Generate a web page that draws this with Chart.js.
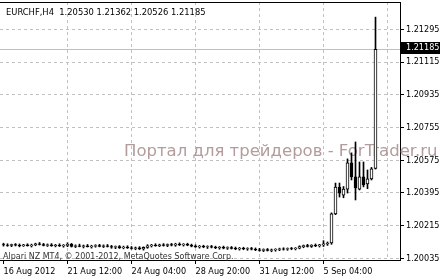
<!DOCTYPE html>
<html>
<head>
<meta charset="utf-8">
<script src="https://cdn.jsdelivr.net/npm/chart.js@4.4.1/dist/chart.umd.min.js"></script>
<style>
  html, body { margin: 0; padding: 0; background: #fff; }
  #wrap { width: 440px; height: 280px; }
</style>
</head>
<body>
<div id="wrap"><canvas id="chart" width="440" height="280"></canvas></div>
<script>
// EURCHF H4 candles, oldest first (16 Aug 2012 20:00 .. 7 Sep 2012)
var opens = [
  1.20110, 1.20108, 1.20106, 1.20110, 1.20107, 1.20104, 1.20109, 1.20105, 1.20108, 1.20114,
  1.20111, 1.20106, 1.20109, 1.20104, 1.20107, 1.20103, 1.20106, 1.20112, 1.20101, 1.20104,
  1.20100, 1.20103, 1.20099, 1.20102, 1.20105, 1.20101, 1.20104, 1.20100, 1.20096, 1.20099,
  1.20094, 1.20097, 1.20093, 1.20089, 1.20092, 1.20086, 1.20095, 1.20104, 1.20108, 1.20105,
  1.20109, 1.20106, 1.20110, 1.20107, 1.20113, 1.20109, 1.20112, 1.20107, 1.20102, 1.20098,
  1.20101, 1.20097, 1.20100, 1.20096, 1.20093, 1.20096, 1.20091, 1.20094, 1.20090, 1.20087,
  1.20090, 1.20086, 1.20089, 1.20085, 1.20082, 1.20079, 1.20083, 1.20078, 1.20081, 1.20084,
  1.20087, 1.20085, 1.20089, 1.20088, 1.20091, 1.20099, 1.20105, 1.20101, 1.20107, 1.20104,
  1.20109, 1.20114, 1.20119, 1.20279, 1.20427, 1.20383, 1.20416, 1.20560, 1.20483, 1.20416,
  1.20483, 1.20444, 1.20472, 1.20530
];
var highs = [
  1.20118, 1.20115, 1.20113, 1.20116, 1.20114, 1.20112, 1.20115, 1.20113, 1.20118, 1.20122,
  1.20117, 1.20114, 1.20116, 1.20112, 1.20115, 1.20111, 1.20120, 1.20117, 1.20109, 1.20113,
  1.20108, 1.20111, 1.20107, 1.20110, 1.20112, 1.20109, 1.20111, 1.20106, 1.20103, 1.20105,
  1.20102, 1.20104, 1.20100, 1.20097, 1.20099, 1.20098, 1.20110, 1.20112, 1.20115, 1.20113,
  1.20116, 1.20114, 1.20117, 1.20118, 1.20120, 1.20116, 1.20118, 1.20113, 1.20109, 1.20106,
  1.20107, 1.20104, 1.20106, 1.20102, 1.20100, 1.20102, 1.20098, 1.20100, 1.20097, 1.20095,
  1.20096, 1.20093, 1.20095, 1.20092, 1.20090, 1.20087, 1.20089, 1.20086, 1.20088, 1.20091,
  1.20093, 1.20092, 1.20095, 1.20094, 1.20104, 1.20108, 1.20112, 1.20110, 1.20114, 1.20112,
  1.20132, 1.20125, 1.20285, 1.20449, 1.20449, 1.20430, 1.20582, 1.20615, 1.20675, 1.20565,
  1.20565, 1.20521, 1.20535, 1.21362
];
var lows = [
  1.20102, 1.20101, 1.20099, 1.20103, 1.20098, 1.20100, 1.20102, 1.20097, 1.20104, 1.20108,
  1.20103, 1.20100, 1.20101, 1.20098, 1.20100, 1.20096, 1.20099, 1.20097, 1.20094, 1.20098,
  1.20092, 1.20097, 1.20091, 1.20096, 1.20098, 1.20094, 1.20097, 1.20090, 1.20088, 1.20089,
  1.20087, 1.20089, 1.20085, 1.20082, 1.20083, 1.20080, 1.20090, 1.20097, 1.20101, 1.20099,
  1.20102, 1.20099, 1.20103, 1.20101, 1.20105, 1.20102, 1.20104, 1.20098, 1.20095, 1.20091,
  1.20093, 1.20089, 1.20092, 1.20088, 1.20085, 1.20087, 1.20084, 1.20086, 1.20082, 1.20080,
  1.20082, 1.20079, 1.20081, 1.20077, 1.20074, 1.20072, 1.20075, 1.20071, 1.20074, 1.20077,
  1.20080, 1.20079, 1.20082, 1.20081, 1.20087, 1.20093, 1.20097, 1.20095, 1.20099, 1.20097,
  1.20100, 1.20106, 1.20112, 1.20275, 1.20372, 1.20368, 1.20394, 1.20466, 1.20356, 1.20411,
  1.20428, 1.20418, 1.20466, 1.20526
];
var closes = [
  1.20108, 1.20106, 1.20110, 1.20107, 1.20104, 1.20109, 1.20105, 1.20108, 1.20114, 1.20111,
  1.20106, 1.20109, 1.20104, 1.20107, 1.20103, 1.20106, 1.20112, 1.20101, 1.20104, 1.20100,
  1.20103, 1.20099, 1.20102, 1.20105, 1.20101, 1.20104, 1.20100, 1.20096, 1.20099, 1.20094,
  1.20097, 1.20093, 1.20089, 1.20092, 1.20086, 1.20095, 1.20104, 1.20108, 1.20105, 1.20109,
  1.20106, 1.20110, 1.20107, 1.20113, 1.20109, 1.20112, 1.20107, 1.20102, 1.20098, 1.20101,
  1.20097, 1.20100, 1.20096, 1.20093, 1.20096, 1.20091, 1.20094, 1.20090, 1.20087, 1.20090,
  1.20086, 1.20089, 1.20085, 1.20082, 1.20079, 1.20083, 1.20078, 1.20081, 1.20084, 1.20087,
  1.20085, 1.20089, 1.20088, 1.20091, 1.20099, 1.20105, 1.20101, 1.20107, 1.20104, 1.20109,
  1.20114, 1.20119, 1.20279, 1.20427, 1.20394, 1.20416, 1.20560, 1.20483, 1.20422, 1.20483,
  1.20439, 1.20472, 1.20527, 1.21185
];

// bar index of each time label (one label every 16 bars)
var timeTickIndex = [0, 16, 32, 48, 64, 80, 96];
var timeLabels = ['16 Aug 2012', '21 Aug 12:00', '24 Aug 04:00', '28 Aug 20:00', '31 Aug 12:00', '5 Sep 04:00', ''];
var priceTicks = [1.21295, 1.21115, 1.20935, 1.20755, 1.20575, 1.20395, 1.20215, 1.20035];

var symbolTitle = 'EURCHF,H4';
var watermark = 'Портал для трейдеров - ForTrader.ru';
var copyright = 'Alpari NZ MT4, © 2001-2012, MetaQuotes Software Corp.';

var FONT = "'DejaVu Sans Condensed', 'DejaVu Sans', sans-serif";
var last = closes.length - 1;

var wickData = lows.map(function (lo, i) { return { x: i, y: [lo, highs[i]] }; });
var bodyData = opens.map(function (op, i) { return { x: i, y: [op, closes[i]] }; });

var mt4Plugin = {
  id: 'mt4',
  beforeDraw: function (chart) {
    var ctx = chart.ctx;
    ctx.save();
    ctx.fillStyle = '#fff';
    ctx.fillRect(0, 0, chart.width, chart.height);
    ctx.restore();
  },
  beforeDatasetsDraw: function (chart) {
    var ctx = chart.ctx, area = chart.chartArea;
    var py = Math.round(chart.scales.y.getPixelForValue(closes[last])) + 0.5;
    ctx.save();
    // bid line
    ctx.strokeStyle = '#c0c0c0';
    ctx.lineWidth = 1;
    ctx.beginPath();
    ctx.moveTo(area.left, py);
    ctx.lineTo(area.right, py);
    ctx.stroke();

    ctx.textBaseline = 'alphabetic';
    ctx.textAlign = 'left';
    ctx.fillStyle = 'rgb(178,156,156)';
    ctx.font = "16.5px 'DejaVu Sans', sans-serif";
    ctx.fillText(watermark, 124, 156);

    ctx.fillStyle = '#333';
    ctx.font = '8.9px ' + FONT;
    ctx.fillText(copyright, 3, 259);

    ctx.fillStyle = '#000';
    ctx.font = '9.3px ' + FONT;
    var ohlc = [opens[last], highs[last], lows[last], closes[last]].map(function (v) { return v.toFixed(5); });
    ctx.fillText(symbolTitle + '  ' + ohlc.join(' '), 6, 15);
    ctx.restore();
  },
  afterDraw: function (chart) {
    var ctx = chart.ctx, area = chart.chartArea;
    var py = Math.round(chart.scales.y.getPixelForValue(closes[last]));
    ctx.save();
    ctx.strokeStyle = '#000';
    ctx.lineWidth = 1;
    ctx.beginPath();
    ctx.moveTo(0, area.top + 0.5);
    ctx.lineTo(area.right + 1, area.top + 0.5);
    ctx.stroke();

    ctx.fillStyle = '#000';
    ctx.fillRect(area.right + 1, py - 7, chart.width - area.right - 1, 12);
    ctx.fillStyle = '#fff';
    ctx.font = '9px ' + FONT;
    ctx.textBaseline = 'middle';
    ctx.fillText(closes[last].toFixed(5), area.right + 6, py - 1);
    ctx.restore();
  }
};

var ctx = document.getElementById('chart').getContext('2d');
new Chart(ctx, {
  type: 'bar',
  data: {
    datasets: [{
      label: 'body',
      data: bodyData,
      order: 0,
      grouped: false,
      barThickness: 3,
      borderWidth: 1,
      borderSkipped: false,
      borderColor: '#000',
      backgroundColor: function (c) {
        var i = c.dataIndex;
        return closes[i] >= opens[i] ? '#fff' : '#000';
      }
    }, {
      label: 'wick',
      data: wickData,
      order: 1,
      grouped: false,
      barThickness: 1,
      borderWidth: 0,
      backgroundColor: '#000'
    }]
  },
  options: {
    responsive: false,
    animation: false,
    events: [],
    layout: { padding: { top: 2, left: 0, right: 0, bottom: 0 } },
    plugins: {
      legend: { display: false },
      tooltip: { enabled: false }
    },
    scales: {
      x: {
        type: 'linear',
        offset: false,
        min: -0.875,
        max: 99.125,
        afterBuildTicks: function (s) {
          s.ticks = timeTickIndex.map(function (v) { return { value: v }; });
        },
        afterFit: function (s) {
          s.height = 20;
          s.paddingLeft = 0;
          s.paddingRight = 0;
        },
        grid: {
          offset: false,
          color: function (c) { return c.tick && c.tick.value > 0 ? '#c0c0c0' : 'rgba(0,0,0,0)'; },
          tickColor: function (c) { return c.tick && c.tick.value < 96 ? '#000' : 'rgba(0,0,0,0)'; },
          tickLength: 4,
          lineWidth: 1
        },
        border: { display: true, color: '#000', dash: [3, 3] },
        ticks: {
          align: 'start',
          padding: 2,
          maxRotation: 0,
          autoSkip: false,
          color: '#000',
          font: { family: FONT, size: 9 },
          callback: function (v) { return timeLabels[timeTickIndex.indexOf(v)]; }
        }
      },
      y: {
        position: 'right',
        min: 1.2002565,
        max: 1.2144521,
        afterBuildTicks: function (s) {
          s.ticks = priceTicks.map(function (v) { return { value: v }; });
        },
        afterFit: function (s) {
          s.width = 40;
          s.paddingTop = 0;
          s.paddingBottom = 0;
        },
        grid: { color: '#c0c0c0', tickColor: '#000', tickLength: 4, lineWidth: 1 },
        border: { display: true, color: '#000', dash: [3, 3] },
        ticks: {
          padding: 2,
          color: '#000',
          font: { family: FONT, size: 9 },
          callback: function (v) { return v.toFixed(5); }
        }
      }
    }
  },
  plugins: [mt4Plugin]
});
</script>
</body>
</html>
